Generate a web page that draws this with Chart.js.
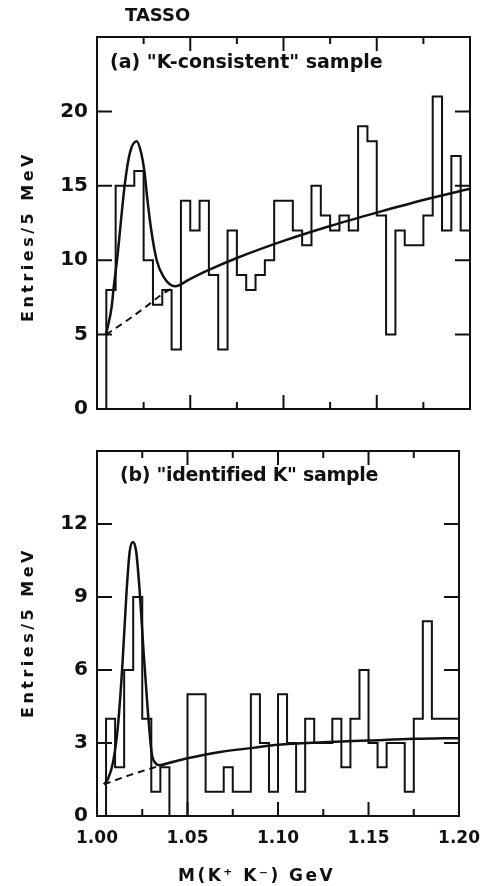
<!DOCTYPE html>
<html>
<head>
<meta charset="utf-8">
<script src="https://cdn.jsdelivr.net/npm/chart.js@4/dist/chart.umd.min.js"></script>
<style>
  html, body { margin: 0; padding: 0; background: #fff; }
  #page { position: relative; width: 492px; height: 886px; overflow: hidden; background: #fff; }
  canvas { position: absolute; left: 0; }
  .txt { position: absolute; font-family: 'DejaVu Sans', sans-serif; font-weight: bold; color: #111; white-space: nowrap; line-height: 1; }
  .ytitle { transform-origin: left top; transform: rotate(-90deg); font-size: 16px; letter-spacing: 3.5px; }
</style>
</head>
<body>
<div id="page">
  <canvas id="chartK" width="492" height="430" style="top:0"></canvas>
  <canvas id="chartId" width="492" height="456" style="top:430px"></canvas>

  <div class="txt" style="left:125px; top:6px; font-size:18px;">TASSO</div>
  <div class="txt" style="left:110px; top:52px; font-size:19px;">(a) "K-consistent" sample</div>
  <div class="txt" style="left:120px; top:465px; font-size:19px; letter-spacing:-0.3px;">(b) "identified K" sample</div>
  <div class="txt ytitle" style="left:20px; top:322px;">Entries/5 MeV</div>
  <div class="txt ytitle" style="left:20px; top:718px;">Entries/5 MeV</div>
  <div class="txt" style="left:178px; top:867px; font-size:17px; letter-spacing:2.5px;">M(K⁺ K⁻) GeV</div>
</div>

<script>
// 5 MeV bins, lower edges (GeV); histogram ends at 1.200
const binEdges = [
  1.005, 1.010, 1.015, 1.020, 1.025, 1.030, 1.035, 1.040, 1.045, 1.050,
  1.055, 1.060, 1.065, 1.070, 1.075, 1.080, 1.085, 1.090, 1.095, 1.100,
  1.105, 1.110, 1.115, 1.120, 1.125, 1.130, 1.135, 1.140, 1.145, 1.150,
  1.155, 1.160, 1.165, 1.170, 1.175, 1.180, 1.185, 1.190, 1.195
];
const histEnd = 1.200;

// (a) "K-consistent" sample
const countsK = [
  8, 15, 15, 16, 10, 7, 8, 4, 14, 12,
  14, 9, 4, 12, 9, 8, 9, 10, 14, 14,
  12, 11, 15, 13, 12, 13, 12, 19, 18, 13,
  5, 12, 11, 11, 13, 21, 12, 17, 12
];
// (b) "identified K" sample
const countsId = [
  4, 2, 6, 9, 4, 1, 2, 0, 0, 5,
  5, 1, 1, 2, 1, 1, 5, 3, 1, 5,
  3, 1, 4, 3, 3, 4, 2, 4, 6, 3,
  2, 3, 3, 1, 4, 8, 4, 4, 4
];

// fitted curves
const fitKx = [1.0048, 1.0079, 1.0088, 1.0109, 1.0150, 1.0177, 1.0213, 1.0236, 1.0254, 1.0270, 1.0290,
               1.0320, 1.0356, 1.0419, 1.050, 1.060, 1.075, 1.100, 1.125, 1.150, 1.175, 1.200];
const fitKy = [5.0, 6.9, 8.0, 10.2, 15.2, 17.25, 18.0, 17.25, 16.0, 14.1, 12.1,
               10.0, 8.9, 8.25, 8.75, 9.35, 10.15, 11.3, 12.3, 13.2, 14.05, 14.8];
const bgKx = [1.0048, 1.0159, 1.0267, 1.0347, 1.0419];
const bgKy = [5.0, 5.93, 6.92, 7.69, 8.25];

const fitIdx = [1.0038, 1.0061, 1.0088, 1.0115, 1.0141, 1.0163, 1.0181, 1.0199, 1.0216, 1.0235, 1.0258,
                1.0281, 1.0302, 1.0321, 1.0347, 1.0392, 1.050, 1.068, 1.086, 1.100, 1.125, 1.150, 1.175, 1.200];
const fitIdy = [1.30, 1.53, 2.19, 3.64, 6.28, 9.18, 10.89, 11.26, 10.89, 9.31, 6.67,
                4.30, 2.59, 2.19, 2.09, 2.17, 2.37, 2.63, 2.80, 2.93, 3.03, 3.10, 3.17, 3.20];
const bgIdx = [1.0038, 1.018, 1.034, 1.0392];
const bgIdy = [1.30, 1.68, 2.05, 2.17];

const xTickValues = [1.025, 1.05, 1.075, 1.10, 1.125, 1.15, 1.175];
const yTicksK = [5, 10, 15, 20];
const yTicksId = [3, 6, 9, 12];

const INK = '#111';

function histPoints(counts) {
  const pts = [{ x: binEdges[0], y: 0 }];
  counts.forEach((c, i) => pts.push({ x: binEdges[i], y: c }));
  pts.push({ x: histEnd, y: counts[counts.length - 1] });
  return pts;
}

function curvePoints(xs, ys) {
  return xs.map((x, i) => ({ x: x, y: ys[i] }));
}

// frame round the plot with inward tick marks on all four sides
const frameTicks = {
  id: 'frameTicks',
  afterDatasetsDraw(chart, args, opts) {
    const { ctx, chartArea: a, scales: { x, y } } = chart;
    ctx.save();
    ctx.strokeStyle = INK;
    ctx.lineWidth = 2;
    ctx.strokeRect(a.left, a.top, a.right - a.left, a.bottom - a.top);
    ctx.beginPath();
    xTickValues.forEach(v => {
      const px = x.getPixelForValue(v);
      const major = Math.round(v * 1000) % 50 === 0;
      const len = major ? 14 : 7;
      ctx.moveTo(px, a.bottom); ctx.lineTo(px, a.bottom - len);
      ctx.moveTo(px, a.top); ctx.lineTo(px, a.top + len);
    });
    opts.yTicks.forEach(v => {
      const py = y.getPixelForValue(v);
      ctx.moveTo(a.left, py); ctx.lineTo(a.left + 15, py);
      ctx.moveTo(a.right, py); ctx.lineTo(a.right - 15, py);
    });
    ctx.stroke();
    ctx.restore();
  }
};

function makeChart(canvasId, opt) {
  return new Chart(document.getElementById(canvasId), {
    type: 'line',
    data: {
      datasets: [
        {
          data: histPoints(opt.counts),
          borderColor: INK,
          borderWidth: 2,
          stepped: true,
          pointRadius: 0,
          fill: false
        },
        {
          data: curvePoints(opt.fitX, opt.fitY),
          borderColor: INK,
          borderWidth: 2.5,
          cubicInterpolationMode: 'monotone',
          pointRadius: 0,
          fill: false
        },
        {
          data: curvePoints(opt.bgX, opt.bgY),
          borderColor: INK,
          borderWidth: 2,
          borderDash: [7, 5],
          cubicInterpolationMode: 'monotone',
          pointRadius: 0,
          fill: false
        }
      ]
    },
    options: {
      responsive: false,
      devicePixelRatio: 1,
      animation: false,
      events: [],
      layout: { padding: opt.padding },
      plugins: {
        legend: { display: false },
        tooltip: { enabled: false },
        frameTicks: { yTicks: opt.yTicks }
      },
      scales: {
        x: {
          type: 'linear',
          min: 1.0,
          max: 1.2,
          grid: { display: false, drawTicks: false },
          border: { display: false },
          ticks: {
            display: opt.showX,
            stepSize: 0.05,
            padding: 12,
            color: INK,
            font: { family: 'DejaVu Sans', size: 17, weight: 'bold' },
            maxRotation: 0,
            callback: v => v.toFixed(2)
          },
          afterFit: s => { s.height = opt.xHeight; }
        },
        y: {
          min: 0,
          max: opt.yMax,
          grid: { display: false, drawTicks: false },
          border: { display: false },
          ticks: {
            stepSize: opt.yStep,
            padding: 9,
            color: INK,
            font: { family: 'DejaVu Sans', size: 20, weight: 'bold' },
            callback: v => (v === opt.yMax ? '' : String(v))
          },
          afterFit: s => { s.width = 97; }
        }
      }
    },
    plugins: [frameTicks]
  });
}

makeChart('chartK', {
  counts: countsK, fitX: fitKx, fitY: fitKy, bgX: bgKx, bgY: bgKy,
  yMax: 25, yStep: 5, yTicks: yTicksK, showX: false, xHeight: 0,
  padding: { top: 37, right: 22, bottom: 15, left: 0 }
});

makeChart('chartId', {
  counts: countsId, fitX: fitIdx, fitY: fitIdy, bgX: bgIdx, bgY: bgIdy,
  yMax: 15, yStep: 3, yTicks: yTicksId, showX: true, xHeight: 70,
  padding: { top: 7, right: 22, bottom: 0, left: 0 }
});
</script>
</body>
</html>
